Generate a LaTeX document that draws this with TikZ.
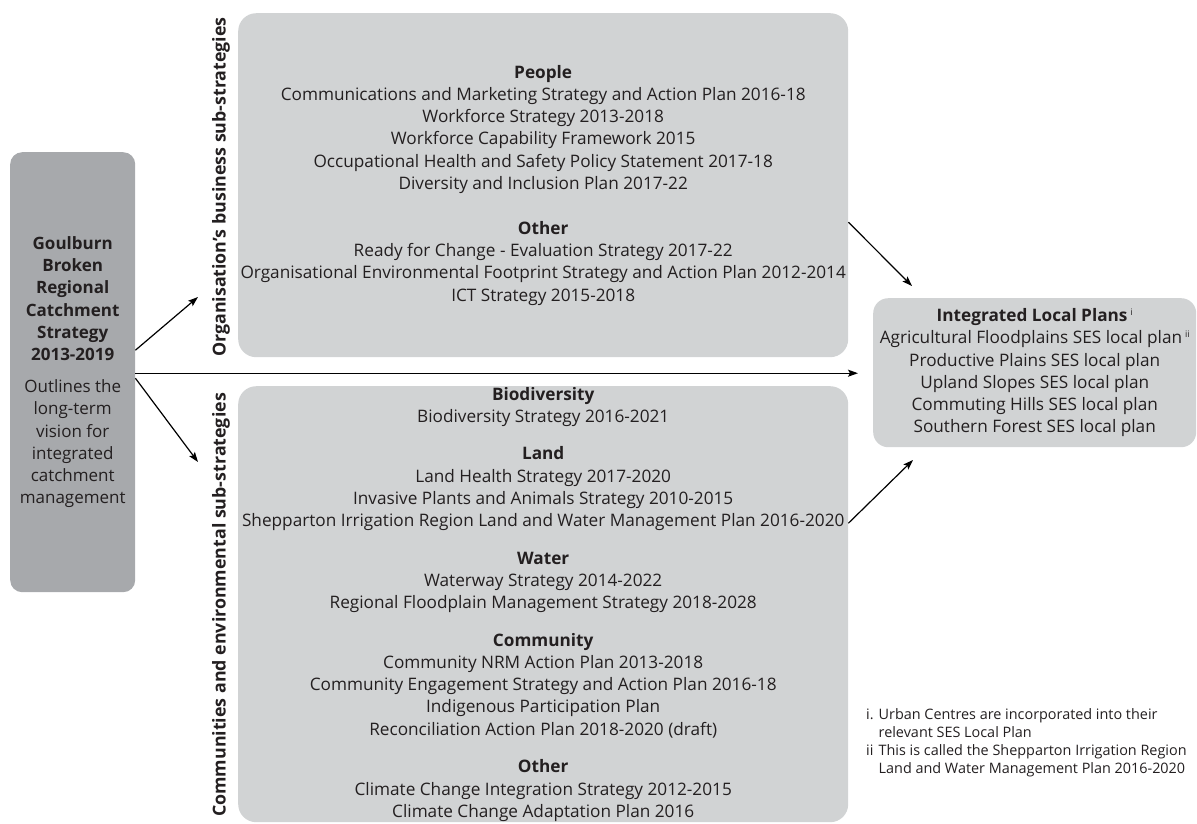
\documentclass[tikz,border=0pt]{standalone}
\usepackage{fontspec}
\setmainfont{Open Sans}
\usetikzlibrary{arrows.meta}
\definecolor{txt}{HTML}{231F20}
\definecolor{lightbox}{HTML}{D1D3D4}
\definecolor{darkbox}{HTML}{A7A9AC}
\newcommand{\supmark}[1]{\,\raisebox{6.5pt}{\fontsize{9}{9}\selectfont #1}}
\begin{document}
\begin{tikzpicture}[x=1pt,y=-1pt,
  every node/.style={text=txt, inner sep=0pt, font=\fontsize{17.2}{22.2}\selectfont},
  panel/.style={fill=lightbox, rounded corners=18pt, align=center, anchor=north west},
  conn/.style={line width=1.2pt, draw=black, -{Stealth[length=10pt,width=7pt,inset=2pt]}},
  sidelabel/.style={rotate=90, font=\fontsize{17.8}{21}\selectfont\bfseries},
  footnotes/.style={anchor=north west, font=\fontsize{14.4}{18.3}\selectfont}]
\useasboundingbox (0,0) rectangle (1197,823);

% left box
\node[panel, fill=darkbox, rounded corners=12pt, minimum width=125pt, minimum height=440pt,
      font=\fontsize{17}{22.2}\selectfont] (G) at (10,152)
  {\textbf{Goulburn}\\ \textbf{Broken}\\ \textbf{Regional}\\ \textbf{Catchment}\\ \textbf{Strategy}\\ \textbf{2013-2019}\\[10pt]
   Outlines the\\ long-term\\ vision for\\ integrated\\ catchment\\ management};

% upper box
\node[panel, minimum width=610pt, minimum height=344pt] (U) at (238,13)
  {\textbf{People}\\
   Communications and Marketing Strategy and Action Plan 2016-18\\
   Workforce Strategy 2013-2018\\
   Workforce Capability Framework 2015\\
   Occupational Health and Safety Policy Statement 2017-18\\
   Diversity and Inclusion Plan 2017-22\\[23pt]
   \textbf{Other}\\
   Ready for Change - Evaluation Strategy 2017-22\\
   Organisational Environmental Footprint Strategy and Action Plan 2012-2014\\
   ICT Strategy 2015-2018};

% lower box
\node[panel, minimum width=610pt, minimum height=436pt] (B) at (238,386)
  {\textbf{Biodiversity}\\
   Biodiversity Strategy 2016-2021\\[15.5pt]
   \textbf{Land}\\
   Land Health Strategy 2017-2020\\
   Invasive Plants and Animals Strategy 2010-2015\\
   Shepparton Irrigation Region Land and Water Management Plan 2016-2020\\[15.5pt]
   \textbf{Water}\\
   Waterway Strategy 2014-2022\\
   Regional Floodplain Management Strategy 2018-2028\\[15.5pt]
   \textbf{Community}\\
   Community NRM Action Plan 2013-2018\\
   Community Engagement Strategy and Action Plan 2016-18\\
   Indigenous Participation Plan\\
   Reconciliation Action Plan 2018-2020 (draft)\\[15.5pt]
   \textbf{Other}\\
   Climate Change Integration Strategy 2012-2015\\
   Climate Change Adaptation Plan 2016};

% right box
\node[panel, rounded corners=15pt, minimum width=323pt, minimum height=149pt] (R) at (873,298)
  {\textbf{Integrated Local Plans}\supmark{i}\\
   Agricultural Floodplains SES local plan\supmark{ii}\\
   Productive Plains SES local plan\\
   Upland Slopes SES local plan\\
   Commuting Hills SES local plan\\
   Southern Forest SES local plan};

% side labels
\node[sidelabel] (LU) at (221,187) {Organisation’s business sub-strategies};
\node[sidelabel] (LB) at (221,605) {Communities and environmental sub-strategies};

% footnotes
\node[footnotes] (F) at (866,706)
  {\begin{tabular}{@{}l@{\hspace{5pt}}l@{}}
   i. & Urban Centres are incorporated into their\\
      & relevant SES Local Plan\\
   ii & This is called the Shepparton Irrigation Region\\
      & Land and Water Management Plan 2016-2020
   \end{tabular}};

% arrow end points
\coordinate (t1) at (198,297);
\coordinate (t2) at (198,462);
\coordinate (t3) at (912,286);
\coordinate (t4) at (913,460);

\draw[conn] ([yshift=22pt]G.east) -- (t1);
\draw[conn] ([yshift=-6pt]G.east) -- (t2);
\draw[conn, shorten >=15pt] ([yshift=-1pt]G.east) -- ([yshift=-1pt]G.east -| R.west);
\draw[conn] ([yshift=-37pt]U.east) -- (t3);
\draw[conn] ([yshift=81pt]B.east) -- (t4);
\end{tikzpicture}
\end{document}
